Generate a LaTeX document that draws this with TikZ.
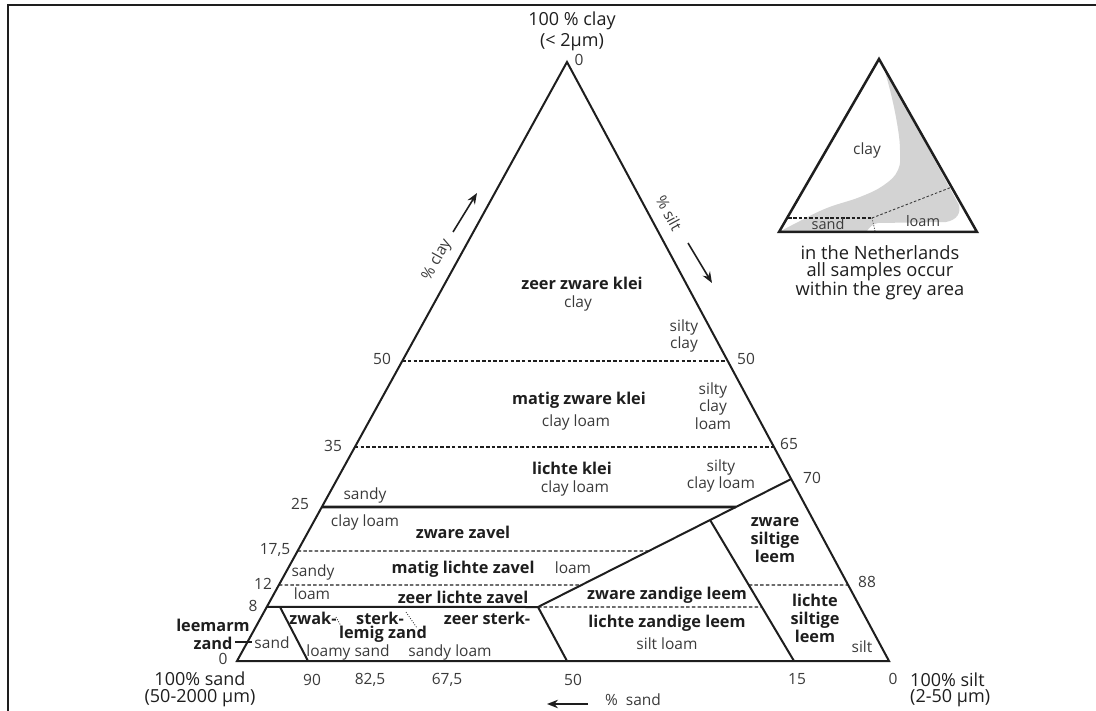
\documentclass[tikz,border=0pt]{standalone}
\usepackage{fontspec}
\setmainfont{Open Sans}
\usetikzlibrary{calc,arrows.meta}
\definecolor{ln}{HTML}{1E1E1E}
\definecolor{txt}{HTML}{3A3A3A}
\definecolor{bt}{HTML}{1E1E1E}
\definecolor{greyarea}{HTML}{D3D3D3}
\begin{document}
\begin{tikzpicture}[x=1pt,y=-1pt,
  edge/.style={draw=ln,line width=2pt,line join=miter,line cap=butt},
  heavy/.style={draw=ln,line width=2.8pt},
  dshline/.style={draw=ln,line width=1.2pt,dash pattern=on 3.5pt off 2.2pt},
  dotline/.style={draw=txt,line width=0.8pt,dash pattern=on 1pt off 1.5pt},
  reg/.style={font=\fontsize{15.5}{17.5}\selectfont,text=txt,inner sep=0pt,align=center},
  bld/.style={font=\fontsize{16.3}{18}\selectfont\bfseries,text=bt,inner sep=0pt,align=center},
  ttl/.style={font=\fontsize{18}{19}\selectfont,text=bt,inner sep=0pt,align=center},
  captext/.style={font=\fontsize{18.3}{19}\selectfont,text=bt,inner sep=0pt,align=center},
  arr/.style={draw=ln,line width=1.6pt,-{Stealth[length=11pt,width=8.5pt]}},
]
\useasboundingbox (0,0) rectangle (1096,711);
% frame
\draw[line width=1.5pt,draw=ln] (8,711) -- (8,5) -- (1096,5);

% ---------- main triangle ----------
\coordinate (A) at (237,661);
\coordinate (B) at (889,661);
\coordinate (C) at (567,62);
\coordinate (L50) at ($(A)!0.5008!(C)$);
\coordinate (R50) at ($(B)!0.5008!(C)$);
\coordinate (L35) at ($(A)!0.3573!(C)$);
\coordinate (R35) at ($(B)!0.3573!(C)$);
\coordinate (L25) at ($(A)!0.2571!(C)$);
\coordinate (L175) at ($(A)!0.1836!(C)$);
\coordinate (L12) at ($(A)!0.1269!(C)$);
\coordinate (L8) at ($(A)!0.0902!(C)$);
\coordinate (R70) at ($(B)!0.3038!(C)$);
\coordinate (R88) at ($(B)!0.1269!(C)$);
\coordinate (D8) at (538,607);
\coordinate (X25) at ($(D8)!0.78125!(R70)$);
\coordinate (X175) at ($(D8)!0.4375!(R70)$);
\coordinate (X12) at ($(D8)!0.171875!(R70)$);
\coordinate (Q) at ($(D8)!0.6797!(R70)$);
\coordinate (P15) at (794,661);
\coordinate (Q88) at ($(Q)!0.461!(P15)$);
\coordinate (Q8) at ($(Q)!0.617!(P15)$);
\coordinate (P50) at (567,661);
\coordinate (N90) at (280,607);
\coordinate (P90) at (308,661);
\coordinate (T1) at (235,642);
\coordinate (T2) at (252,642);

\draw[dshline] (L50) -- (R50);
\draw[dshline] (L35) -- (R35);
\draw[dshline] (L175) -- (X175);
\draw[dshline] (L12) -- (X12);
\draw[dshline] (D8) -- (Q8);
\draw[dshline] (Q88) -- (R88);
\draw[heavy] (L25) -- (X25);
\draw[edge] (L8) -- (D8) -- (R70);
\draw[edge] (Q) -- (P15);
\draw[edge] (D8) -- (P50);
\draw[edge] (N90) -- (P90);
\draw[draw=ln,line width=2.8pt] (T1) -- (T2);
\draw[dotline] (336,617) -- (342,628);
\draw[dotline] (406,612) -- (417,628);
\draw[edge] (A) -- (B) -- (C) -- cycle;

% arrows
\coordinate (ca1) at (453,232); \coordinate (ca2) at (477,193);
\coordinate (sa1) at (688,243); \coordinate (sa2) at (712,283);
\coordinate (na1) at (588,704); \coordinate (na2) at (547,704);
\draw[arr] (ca1) -- (ca2);
\draw[arr] (sa1) -- (sa2);
\draw[arr] (na1) -- (na2);

% titles
\node[ttl] (tclay) at (572,21) {100 \% clay};
\node[ttl] (tclay2) at (572,42) {(< 2µm)};
\node[ttl] (tsand) at (200,679) {100\% sand};
\node[ttl] (tsand2) at (200,698) {(50-2000 µm)};
\node[ttl,anchor=west] (tsilt) at (910,680) {100\% silt};
\node[ttl,anchor=west] (tsilt2) at (910,698) {(2-50 µm)};

% numbers
\node[reg] (n0t) at (579,60) {0};
\node[reg] (nl50) at (382,359) {50};
\node[reg] (nl35) at (333,446) {35};
\node[reg] (nl25) at (300,504) {25};
\node[reg] (nl175) at (275,550) {17,5};
\node[reg] (nl12) at (263,584) {12};
\node[reg] (nl8) at (253,606) {8};
\node[reg] (nl0) at (223,659) {0};
\node[reg] (nr50) at (746,359) {50};
\node[reg] (nr65) at (789,444) {65};
\node[reg] (nr70) at (812,478) {70};
\node[reg] (nr88) at (867,582) {88};
\node[reg] (nb90) at (312,680) {90};
\node[reg] (nb825) at (370,680) {82,5};
\node[reg] (nb675) at (447,680) {67,5};
\node[reg] (nb50) at (573,680) {50};
\node[reg] (nb15) at (797,679) {15};
\node[reg] (nb0) at (893,679) {0};

% axis labels
\node[reg,rotate=61.2] (aclay) at (437,260) {\% clay};
\node[reg,rotate=-61.7] (asilt) at (669,213) {\% silt};
\node[reg] (asand) at (633,700) {\%~~sand};

% Dutch class names (bold)
\node[bld] (b1) at (582,283) {zeer zware klei};
\node[bld] (b2) at (579,400) {matig zware klei};
\node[bld] (b3) at (572,468) {lichte klei};
\node[bld] (b4) at (463,532) {zware zavel};
\node[bld] (b5) at (463,569) {matig lichte zavel};
\node[bld] (b6) at (463,597) {zeer lichte zavel};
\node[bld] (b7) at (313,618) {zwak-};
\node[bld] (b8) at (380,618) {sterk-};
\node[bld] (b9) at (383,634) {lemig zand};
\node[bld] (b10) at (487,618) {zeer sterk-};
\node[bld] (b11) at (213,625) {leemarm};
\node[bld] (b12) at (213,643) {zand};
\node[bld] (b13) at (667,595) {zware zandige leem};
\node[bld] (b14) at (667,623) {lichte zandige leem};
\node[bld] (b15) at (775,540) {zware\\siltige\\leem};
\node[bld] (b16) at (815,618) {lichte\\siltige\\leem};

% English names
\node[reg,font=\fontsize{15.5}{16.5}\selectfont] (e2) at (684,336) {silty\\clay};
\node[reg] (e1) at (578,303) {clay};
\node[reg] (e3) at (576,422) {clay loam};
\node[reg] (e4) at (713,406) {silty\\clay\\loam};
\node[reg] (e5) at (575,488) {clay loam};
\node[reg] (e6) at (721,476) {silty\\clay loam};
\node[reg] (e7) at (365,495) {sandy};
\node[reg] (e8) at (365,522) {clay loam};
\node[reg] (e9) at (313,572) {sandy};
\node[reg] (e10) at (573,568) {loam};
\node[reg] (e11) at (312,594) {loam};
\node[reg] (e12) at (272,643) {sand};
\node[reg] (e13) at (348,652) {loamy sand};
\node[reg] (e14) at (450,652) {sandy loam};
\node[reg] (e15) at (667,644) {silt loam};
\node[reg] (e16) at (862,647) {silt};

% ---------- inset ----------
\coordinate (iA) at (779,232);
\coordinate (iB) at (977,232);
\coordinate (iC) at (879,59);
\fill[greyarea] (880.5,61) -- (959,205) .. controls (961,213) and (957,220) .. (946,222)
  -- (878,223) .. controls (872,224) and (869,228) .. (867,231)
  -- (781,231) -- plot[smooth,tension=0.7] coordinates {(781,231) (800,221) (827,208) (860,197) (884,185) (898,170) (900,150) (897,123) (890,90) (882,62)} -- cycle;
\coordinate (is1) at (788,218);
\coordinate (is2) at (872,218);
\coordinate (is3) at (952,187);
\coordinate (is4) at (875,231);
\draw[draw=ln,line width=1.8pt,dash pattern=on 3.5pt off 1.8pt] (is1) -- (is2);
\draw[draw=txt,line width=0.9pt,dash pattern=on 2.5pt off 2pt] (is2) -- (is3);
\draw[draw=txt,line width=0.8pt,dash pattern=on 1pt off 1.5pt] (is2) -- (is4);
\draw[draw=ln,line width=2.5pt,line join=miter] (iA) -- (iB) -- (iC) -- cycle;
\node[reg] (ic) at (867,150) {clay};
\node[reg,font=\fontsize{14.5}{16}\selectfont] (is) at (828,224) {sand};
\node[reg,font=\fontsize{14.5}{16}\selectfont] (il) at (923,221) {loam};
\node[captext] (cap1) at (880,253) {in the Netherlands};
\node[captext] (cap2) at (880,272) {all samples occur};
\node[captext] (cap3) at (880,291) {within the grey area};
\end{tikzpicture}
\end{document}
